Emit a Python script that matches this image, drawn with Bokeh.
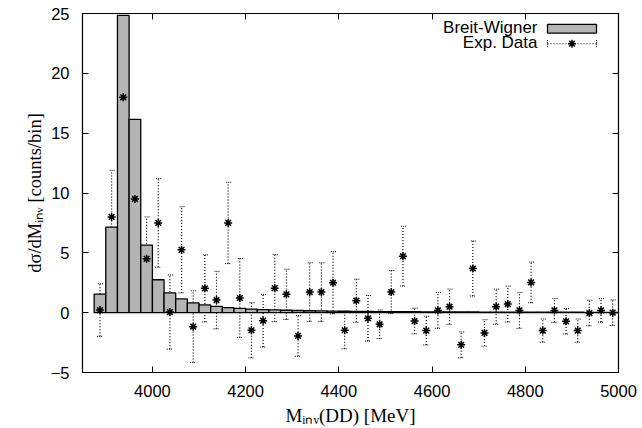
from bokeh.plotting import figure
from bokeh.models import (Range1d, FixedTicker, LinearAxis, Whisker, TeeHead,
                          ColumnDataSource, Label)
from bokeh.embed import file_html
from bokeh.resources import INLINE

# ---------------- data ----------------
bin_centers = [3887.5, 3912.5, 3937.5, 3962.5, 3987.5, 4012.5, 4037.5, 4062.5, 4087.5,
               4112.5, 4137.5, 4162.5, 4187.5, 4212.5, 4237.5, 4262.5, 4287.5, 4312.5,
               4337.5, 4362.5, 4387.5, 4412.5, 4437.5, 4462.5, 4487.5, 4512.5, 4537.5,
               4562.5, 4587.5, 4612.5, 4637.5, 4662.5, 4687.5, 4712.5, 4737.5, 4762.5,
               4787.5, 4812.5, 4837.5, 4862.5, 4887.5, 4912.5, 4937.5, 4962.5, 4987.5]
bin_width = 25

breit_wigner = [1.55, 7.15, 24.85, 16.15, 5.65, 2.75, 1.65, 1.15, 0.82,
                0.65, 0.52, 0.42, 0.36, 0.30, 0.26, 0.23, 0.20, 0.18,
                0.16, 0.15, 0.13, 0.12, 0.11, 0.10, 0.09, 0.085, 0.08,
                0.075, 0.07, 0.065, 0.06, 0.057, 0.054, 0.05, 0.048, 0.045,
                0.043, 0.041, 0.039, 0.037, 0.035, 0.034, 0.032, 0.031, 0.03]

exp_data = [0.22, 8.0, 18.0, 9.5, 4.5, 7.5, 0.05, 5.25, -1.17,
            2.03, 1.05, 7.5, 1.22, -1.47, -0.67, 2.05, 1.53, -1.94,
            1.72, 1.72, 2.5, -1.47, 1.0, -0.47, -0.97, 1.72, 4.72,
            -0.7, -1.5, 0.19, 0.5, -2.69, 3.69, -1.69, 0.5, 0.72,
            0.19, 2.53, -1.5, 0.19, -0.72, -1.5, -0.03, 0.19, 0.0]

exp_err = [2.2, 3.9, 5.1, 4.0, 3.5, 3.7, 3.1, 3.6, 3.0,
           2.8, 2.4, 3.4, 3.3, 2.3, 2.2, 2.8, 2.1, 1.7,
           2.45, 2.45, 2.6, 1.55, 1.8, 1.9, 1.2, 1.8, 2.5,
           1.07, 1.2, 1.5, 1.47, 1.08, 2.3, 1.1, 1.47, 1.5,
           1.5, 1.7, 0.97, 1.0, 1.06, 0.97, 1.07, 0.98, 1.07]

x_ticks = [4000, 4200, 4400, 4600, 4800, 5000]
y_ticks = [-5, 0, 5, 10, 15, 20, 25]

x_title = "M\u1d62\u2099\u1d65(DD) [MeV]"
y_title = "d\u03c3/dM\u1d62\u2099\u1d65 [counts/bin]"
legend_names = ["Breit-Wigner", "Exp. Data"]

# ---------------- figure ----------------
p = figure(width=642, height=428, x_range=Range1d(3850, 5000), y_range=Range1d(-5, 25),
           output_backend="svg", toolbar_location=None,
           min_border_left=82, min_border_right=24, min_border_top=13, min_border_bottom=55,
           background_fill_color="white", border_fill_color="white")
p.grid.visible = False
p.outline_line_color = "black"
p.outline_line_width = 1.2

TICK_FONT = "Liberation Sans"
SERIF = "Liberation Serif"
for ax, ticks in ((p.xaxis[0], x_ticks), (p.yaxis[0], y_ticks)):
    ax.ticker = FixedTicker(ticks=ticks)
    ax.major_tick_in = 6
    ax.major_tick_out = 0
    ax.minor_tick_line_color = None
    ax.axis_line_color = "black"
    ax.major_tick_line_color = "black"
    ax.major_label_text_font = TICK_FONT
    ax.major_label_text_font_size = "16.5px"
    ax.major_label_text_color = "black"
    ax.axis_label_text_font = SERIF
    ax.axis_label_text_font_style = "normal"
    ax.axis_label_text_color = "black"
p.xaxis[0].major_label_standoff = 12
p.yaxis[0].major_label_standoff = 13
p.xaxis[0].axis_label = x_title
p.xaxis[0].axis_label_text_font_size = "19px"
p.xaxis[0].axis_label_standoff = 5
p.yaxis[0].axis_label = y_title
p.yaxis[0].axis_label_text_font_size = "18.5px"
p.yaxis[0].axis_label_standoff = 3

top_ax = LinearAxis(ticker=FixedTicker(ticks=x_ticks),
                    major_label_overrides={t: "" for t in x_ticks},
                    major_label_text_font_size="1px", major_label_standoff=0,
                    major_tick_in=6, major_tick_out=0, minor_tick_line_color=None,
                    axis_line_color="black")
p.add_layout(top_ax, "above")
right_ax = LinearAxis(ticker=FixedTicker(ticks=y_ticks),
                      major_label_overrides={t: "" for t in y_ticks},
                      major_label_text_font_size="1px", major_label_standoff=0,
                      major_tick_in=6, major_tick_out=0, minor_tick_line_color=None,
                      axis_line_color="black")
p.add_layout(right_ax, "right")

# histogram
p.vbar(x=bin_centers, width=bin_width, top=breit_wigner, bottom=0,
       fill_color="#b4b4b4", line_color="black", line_width=1.3)

# experimental data with error bars
src = ColumnDataSource(dict(
    x=bin_centers, y=exp_data,
    lo=[v - e for v, e in zip(exp_data, exp_err)],
    hi=[v + e for v, e in zip(exp_data, exp_err)]))
wh = Whisker(source=src, base="x", upper="hi", lower="lo",
             line_color="black", line_width=1.2, line_dash="1 2",
             upper_head=TeeHead(size=6, line_width=1.0, line_dash="1 1", line_color="black"),
             lower_head=TeeHead(size=6, line_width=1.0, line_dash="1 1", line_color="black"))
p.add_layout(wh)
p.scatter(x="x", y="y", source=src, marker="asterisk", size=8,
          line_color="black", line_width=1.5)

# ---------------- legend (drawn in frame pixel coordinates) ----------------
p.extra_x_ranges = {"px": Range1d(0, 536)}
p.extra_y_ranges = {"px": Range1d(0, 360)}
leg_text_x = 455
leg_rows_y = [344.7, 329.7]
key_left, key_right = 465, 514
for name, yy in zip(legend_names, leg_rows_y):
    p.add_layout(Label(x=leg_text_x, y=yy, x_units="screen", y_units="screen", text=name,
                       text_font=TICK_FONT, text_font_size="17px", text_color="black",
                       text_align="right", text_baseline="middle"))
p.quad(left=[key_left], right=[key_right], bottom=[leg_rows_y[0] - 4.3], top=[leg_rows_y[0] + 4.3],
       fill_color="#b4b4b4", line_color="black", line_width=1.3,
       x_range_name="px", y_range_name="px")
p.segment(x0=[key_left], y0=[leg_rows_y[1]], x1=[key_right], y1=[leg_rows_y[1]],
          line_color="black", line_width=1.0, line_dash="1 2",
          x_range_name="px", y_range_name="px")
p.segment(x0=[key_left, key_right], y0=[leg_rows_y[1] - 3.5] * 2,
          x1=[key_left, key_right], y1=[leg_rows_y[1] + 3.5] * 2,
          line_color="black", line_width=1.0, line_dash="1 1",
          x_range_name="px", y_range_name="px")
p.scatter(x=[(key_left + key_right) / 2], y=[leg_rows_y[1]], marker="asterisk", size=8,
          line_color="black", line_width=1.5, x_range_name="px", y_range_name="px")

open("out.html", "w").write(file_html(p, INLINE))
